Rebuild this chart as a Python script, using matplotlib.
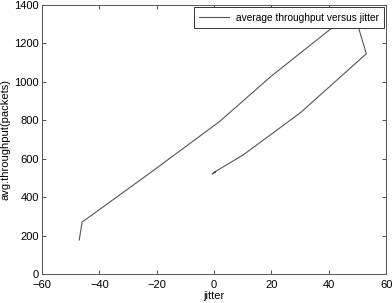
import matplotlib
matplotlib.use('Agg')
import matplotlib.pyplot as plt

# datos
jitter = [-47.0, -46.0, -22.3, 1.9, 20.0, 41.6, 49.5, 53.1, 30.1, 10.2, -0.3, 0.6, -0.6]
throughput = [177, 270, 526, 793, 1030, 1286, 1325, 1146, 839, 620, 526, 531, 521]

xticks = [-60, -40, -20, 0, 20, 40, 60]
yticks = [0, 200, 400, 600, 800, 1000, 1200, 1400]

plt.rcParams['font.family'] = ['Liberation Sans', 'DejaVu Sans']

fig = plt.figure(figsize=(3.92, 3.03), dpi=100)
ax = fig.add_axes([0.107, 0.0957, 0.878, 0.888])

ax.plot(jitter, throughput, color='#555555', lw=0.8, label='average throughput versus jitter')

ax.set_xlim(-60, 60)
ax.set_ylim(0, 1400)
ax.set_xticks(xticks)
ax.set_yticks(yticks)
ax.tick_params(direction='in', length=3, width=0.6, labelsize=8, top=True, right=True,
               colors='#333333', labelcolor='black')
ax.tick_params(axis='x', pad=4)
ax.tick_params(axis='y', pad=2)
for s in ax.spines.values():
    s.set_color('#555555')
    s.set_linewidth(0.7)

ax.set_xlabel('jitter', fontsize=8, labelpad=1)
ax.set_ylabel('avg.throughput(packets)', fontsize=8, labelpad=3)

leg = ax.legend(loc='upper right', fontsize=7.3, frameon=True, fancybox=False,
                handlelength=3.0, handletextpad=0.6, borderpad=0.5, borderaxespad=0.25)
leg.get_frame().set_edgecolor('#333333')
leg.get_frame().set_linewidth(0.7)
leg.get_frame().set_alpha(1)

fig.savefig('out.png', dpi=100)
